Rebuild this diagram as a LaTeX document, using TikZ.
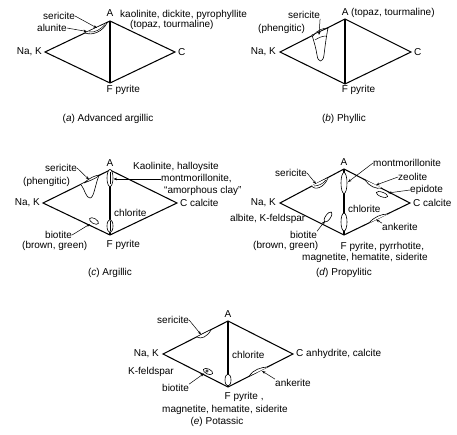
\documentclass[tikz,border=0pt]{standalone}
\usepackage{fontspec}
\setmainfont{Liberation Sans}
\usetikzlibrary{arrows.meta}
\tikzset{
  lbl/.style={inner sep=0pt, font=\fontsize{10}{11}\selectfont},
  edge/.style={line width=1.05pt, line join=miter},
  lead/.style={line width=0.5pt, -{Stealth[length=3.5pt,width=2.6pt]}},
  blob/.style={line width=0.6pt, fill=white},
}
\begin{document}
\begin{tikzpicture}[x=1pt,y=-1pt]
\useasboundingbox (0,0) rectangle (457,434);
% ================= (a) =================
\coordinate (aA) at (110,21); \coordinate (aN) at (45,52);
\coordinate (aC) at (175,52); \coordinate (aF) at (110,83);
\draw[edge] (aN)--(aA)--(aC)--(aF)--cycle; \draw[edge] (aA)--(aF);
\node[lbl,anchor=south] (aAl) at (110,17) {A};
\node[lbl,anchor=west] (aKd) at (120,15) {kaolinite, dickite, pyrophyllite};
\node[lbl,anchor=west] (aTo) at (130,25) {(topaz, tourmaline)};
\node[lbl,anchor=east] (aNa) at (42,52) {Na, K};
\node[lbl,anchor=west] (aCl) at (178,52) {C};
\node[lbl,anchor=west] (aFl) at (106.5,90) {F pyrite};
\node[lbl,anchor=west] (aSer) at (43,16) {sericite};
\node[lbl,anchor=west] (aAlu) at (37,28) {alunite};
\draw[blob] (85,33) .. controls (93,36) and (103,31) .. (107,23);
\draw[line width=0.5pt] (89,32) .. controls (95,33) and (101,29) .. (105,24.5);
\coordinate (aSerT) at (97,28); \coordinate (aAluT) at (87,31.5);
\draw[lead] (aSer.east) -- (aSerT);
\draw[lead] (aAlu.east) -- (aAluT);
\node[lbl] (aCap) at (108,119) {(\textit{a}) Advanced argillic};
% ================= (b) =================
\coordinate (bA) at (345,19); \coordinate (bN) at (280,52);
\coordinate (bC) at (411,52); \coordinate (bF) at (345,84);
\draw[edge] (bN)--(bA)--(bC)--(bF)--cycle; \draw[edge] (bA)--(bF);
\node[lbl,anchor=west] (bAl) at (341.6,13) {A (topaz, tourmaline)};
\node[lbl,anchor=east] (bNa) at (276,52) {Na, K};
\node[lbl,anchor=west] (bCl) at (414,52) {C};
\node[lbl,anchor=west] (bFl) at (341.6,90) {F pyrite};
\node[lbl,anchor=west] (bSer) at (288,15) {sericite};
\node[lbl,anchor=west] (bPh) at (258,29) {(phengitic)};
\draw[blob] (312,35) .. controls (314,42) and (316,48) .. (317,55)
  .. controls (318,63) and (323,63) .. (324,55)
  .. controls (325,47) and (326,38) .. (328,28) -- cycle;
\draw[line width=0.5pt] (313,36) .. controls (317,30) and (323,28) .. (328,28);
\draw[line width=0.5pt] (315,40) .. controls (318,38) and (322,36) .. (326,36);
\coordinate (bSerT) at (319,35);
\draw[lead] (bSer.south east) -- (bSerT);
\node[lbl] (bCap) at (344,119) {(\textit{b}) Phyllic};
% ================= (c) =================
\coordinate (cA) at (110,170); \coordinate (cN) at (43,203);
\coordinate (cC) at (177,203); \coordinate (cF) at (110,235);
\draw[edge] (cN)--(cA)--(cC)--(cF)--cycle; \draw[edge] (cA)--(cF);
\node[lbl,anchor=south] (cAl) at (110,167) {A};
\node[lbl,anchor=east] (cNa) at (40,203) {Na, K};
\node[lbl,anchor=west] (cCl) at (180,203) {C calcite};
\node[lbl,anchor=west] (cFl) at (106.5,245) {F pyrite};
\node[lbl,anchor=west] (cKa) at (133,167) {Kaolinite, halloysite};
\node[lbl,anchor=west] (cMo) at (161,179) {montmorillonite,};
\node[lbl,anchor=west] (cAm) at (164,191) {``amorphous clay''};
\node[lbl,anchor=west] (cSer) at (45,168) {sericite};
\node[lbl,anchor=west] (cPh) at (23,182) {(phengitic)};
\node[lbl,anchor=west] (cChl) at (114,213) {chlorite};
\node[lbl,anchor=west] (cBi) at (45,235) {biotite};
\node[lbl,anchor=west] (cBg) at (22,246) {(brown, green)};
\draw[blob] (81,184.5) .. controls (85,190) and (86,198) .. (90,198)
  .. controls (94,198) and (95,185) .. (99,175.5);
\draw[blob] (84,183) .. controls (89,181) and (95,179) .. (100,175) .. controls (96,175) and (89,178) .. (84,183);
\draw[blob] (110,178) ellipse [x radius=3, y radius=8.5];
\draw[line width=0.5pt] (110,172) -- (110,184);
\draw[blob] (110,226) ellipse [x radius=3, y radius=6.5];
\draw[line width=0.5pt] (110,221) -- (110,231);
\draw[blob] (94,221) ellipse [x radius=5, y radius=2.5, rotate=-30];
\coordinate (cSerT) at (89,179.5); \coordinate (cMoT) at (113.5,179);
\coordinate (cBiT) at (90,224);
\draw[lead] (cSer.east) -- (cSerT);
\draw[lead] (cMo.west) -- (cMoT);
\draw[lead] (cBi.east) -- (cBiT);
\node[lbl] (cCap) at (110,273) {(\textit{c}) Argillic};
% ================= (d) =================
\coordinate (dA) at (344,169); \coordinate (dN) at (280,203);
\coordinate (dC) at (410,203); \coordinate (dF) at (344,235);
\draw[edge] (dN)--(dA)--(dC)--(dF)--cycle; \draw[edge] (dA)--(dF);
\node[lbl,anchor=south] (dAl) at (344,166) {A};
\node[lbl,anchor=east] (dNa) at (276,203) {Na, K};
\node[lbl,anchor=west] (dCl) at (413,203) {C calcite};
\node[lbl,anchor=west] (dFl) at (340.5,247) {F pyrite, pyrrhotite,};
\node[lbl,anchor=west] (dMa) at (302,258) {magnetite, hematite, siderite};
\node[lbl,anchor=west] (dSer) at (275,173) {sericite};
\node[lbl,anchor=west] (dMo) at (373,163) {montmorillonite};
\node[lbl,anchor=west] (dZe) at (398,177) {zeolite};
\node[lbl,anchor=west] (dEp) at (410,190) {epidote};
\node[lbl,anchor=west] (dChl) at (348,209) {chlorite};
\node[lbl,anchor=west] (dAn) at (382,227) {ankerite};
\node[lbl,anchor=west] (dAb) at (230,219) {albite, K-feldspar};
\node[lbl,anchor=west] (dBi) at (290,235) {biotite};
\node[lbl,anchor=west] (dBg) at (253,246) {(brown, green)};
\draw[blob] (311,186) .. controls (315,190.5) and (324,188) .. (328,178);
\draw[line width=0.5pt] (314,186) .. controls (318,186) and (323,184) .. (326,180);
\draw[blob] (344,183) ellipse [x radius=3, y radius=10.5];
\draw[blob] (344,222) ellipse [x radius=3, y radius=9];
\draw[blob] (365,180) .. controls (369,186) and (376,189.5) .. (382,188);
\draw[blob] (382,194.5) ellipse [x radius=6, y radius=2.3, rotate=-20];
\draw[blob] (369,223) .. controls (374,217) and (381,214) .. (388,214);
\draw[blob] (328,217) ellipse [x radius=6, y radius=2.5, rotate=55];
\coordinate (dSerT) at (316,184); \coordinate (dMoT) at (348,182);
\coordinate (dZeT) at (376,185); \coordinate (dEpT) at (388,193);
\coordinate (dAnT) at (376,219.5); \coordinate (dBiT) at (325,221);
\draw[lead] (dSer.east) -- (dSerT);
\draw[lead] (dMo.west) -- (dMoT);
\draw[lead] (dZe.west) -- (dZeT);
\draw[lead] (dEp.west) -- (dEpT);
\draw[lead] (dAn.north west) -- (dAnT);
\draw[lead] (dBi.north east) -- (dBiT);
\node[lbl] (dCap) at (344,273) {(\textit{d}) Propylitic};
% ================= (e) =================
\coordinate (eA) at (228,321); \coordinate (eN) at (163,354);
\coordinate (eC) at (293,354); \coordinate (eF) at (228,387);
\draw[edge] (eN)--(eA)--(eC)--(eF)--cycle; \draw[edge] (eA)--(eF);
\node[lbl,anchor=south] (eAl) at (228,318) {A};
\node[lbl,anchor=east] (eNa) at (159,354) {Na, K};
\node[lbl,anchor=west] (eCl) at (296,354) {C anhydrite, calcite};
\node[lbl,anchor=west] (eChl) at (232,355) {chlorite};
\node[lbl,anchor=west] (eSer) at (157,320) {sericite};
\node[lbl,anchor=west] (eKf) at (128,372) {K-feldspar};
\node[lbl,anchor=west] (eBi) at (162,388) {biotite};
\node[lbl,anchor=west] (eAn) at (275,383) {ankerite};
\node[lbl,anchor=west] (eFl) at (224.5,397) {F pyrite ,};
\node[lbl,anchor=west] (eMa) at (162,410) {magnetite, hematite, siderite};
\draw[blob] (197,337) .. controls (201,339.5) and (207,337) .. (211,330);
\draw[blob] (228,380) ellipse [x radius=3, y radius=6];
\draw[blob] (208,371.5) ellipse [x radius=5, y radius=2.6, rotate=-25];
\draw[line width=0.5pt] (207,371) circle [radius=1.3];
\draw[blob] (249,376) .. controls (253,370) and (261,367) .. (268,367);
\coordinate (eSerT) at (201,334.5); \coordinate (eBiT) at (204,373.5);
\coordinate (eAnT) at (262,371);
\draw[lead] (eSer.east) -- (eSerT);
\draw[lead] (eBi.north east) -- (eBiT);
\draw[lead] (eAn.north west) -- (eAnT);
\node[lbl] (eCap) at (217,422) {(\textit{e}) Potassic};
\end{tikzpicture}
\end{document}
